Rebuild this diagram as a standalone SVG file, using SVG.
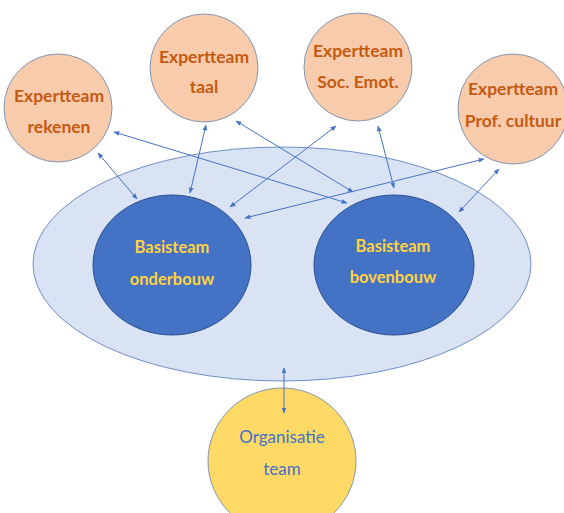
<svg xmlns="http://www.w3.org/2000/svg" width="564" height="513" viewBox="0 0 564 513">
<defs>
<marker id="ah" viewBox="0 0 10 10" refX="9" refY="5" markerWidth="6" markerHeight="6" markerUnits="userSpaceOnUse" orient="auto-start-reverse">
<path d="M0,1 L10,5 L0,9 z" fill="#4472C4"/>
</marker>
<style>
.exp{fill:#F8CBAD;stroke:#8497B0;stroke-width:1}
.expt{font-family:Lato,"Liberation Sans",sans-serif;font-weight:bold;font-size:17.5px;fill:#C55A11;text-anchor:middle}
.bas{fill:#4472C4;stroke:#2F528F;stroke-width:1}
.bast{font-family:Lato,"Liberation Sans",sans-serif;font-weight:bold;font-size:16.5px;fill:#FFD23F;text-anchor:middle}
.org{fill:#FFD966;stroke:#8497B0;stroke-width:1}
.orgt{font-family:Lato,"Liberation Sans",sans-serif;font-size:17px;fill:#4472C4;text-anchor:middle}
.con line{stroke:#4472C4;stroke-width:1;marker-start:url(#ah);marker-end:url(#ah)}
</style>
</defs>
<rect width="564" height="513" fill="#FFFFFF"/>
<g id="outer"><ellipse cx="282" cy="264" rx="249" ry="117" fill="#DAE3F3" stroke="#6F8FC6" stroke-width="1"/></g>
<g id="rekenen"><circle class="exp" cx="58" cy="108" r="54"/><text class="expt" x="59" y="102">Expertteam</text><text class="expt" x="59" y="133">rekenen</text></g>
<g id="taal"><circle class="exp" cx="204" cy="68" r="54"/><text class="expt" x="204" y="63">Expertteam</text><text class="expt" x="204" y="93">taal</text></g>
<g id="soc"><circle class="exp" cx="358" cy="67" r="54"/><text class="expt" x="358" y="57">Expertteam</text><text class="expt" x="358" y="88">Soc. Emot.</text></g>
<g id="prof"><circle class="exp" cx="513" cy="109" r="55"/><text class="expt" x="513" y="95">Expertteam</text><text class="expt" x="513" y="127">Prof. cultuur</text></g>
<g id="onderbouw"><ellipse class="bas" cx="172" cy="265" rx="79" ry="70"/><text class="bast" x="172" y="253">Basisteam</text><text class="bast" x="172" y="285">onderbouw</text></g>
<g id="bovenbouw"><ellipse class="bas" cx="394" cy="265" rx="80" ry="70"/><text class="bast" x="393" y="252">Basisteam</text><text class="bast" x="393" y="283">bovenbouw</text></g>
<g id="organisatie"><ellipse class="org" cx="282" cy="461" rx="74" ry="73"/><text class="orgt" x="282" y="443">Organisatie</text><text class="orgt" x="282" y="475">team</text></g>
<g class="con" id="connectors">
<line x1="98" y1="153" x2="137" y2="199"/>
<line x1="206" y1="125" x2="190" y2="193"/>
<line x1="236" y1="121" x2="353" y2="192"/>
<line x1="114" y1="132" x2="347" y2="203"/>
<line x1="336" y1="126" x2="230" y2="207"/>
<line x1="378" y1="126" x2="394" y2="188"/>
<line x1="484" y1="159" x2="245" y2="218"/>
<line x1="499" y1="169" x2="459" y2="212"/>
<line x1="284" y1="368" x2="284" y2="413"/>
</g>
</svg>
